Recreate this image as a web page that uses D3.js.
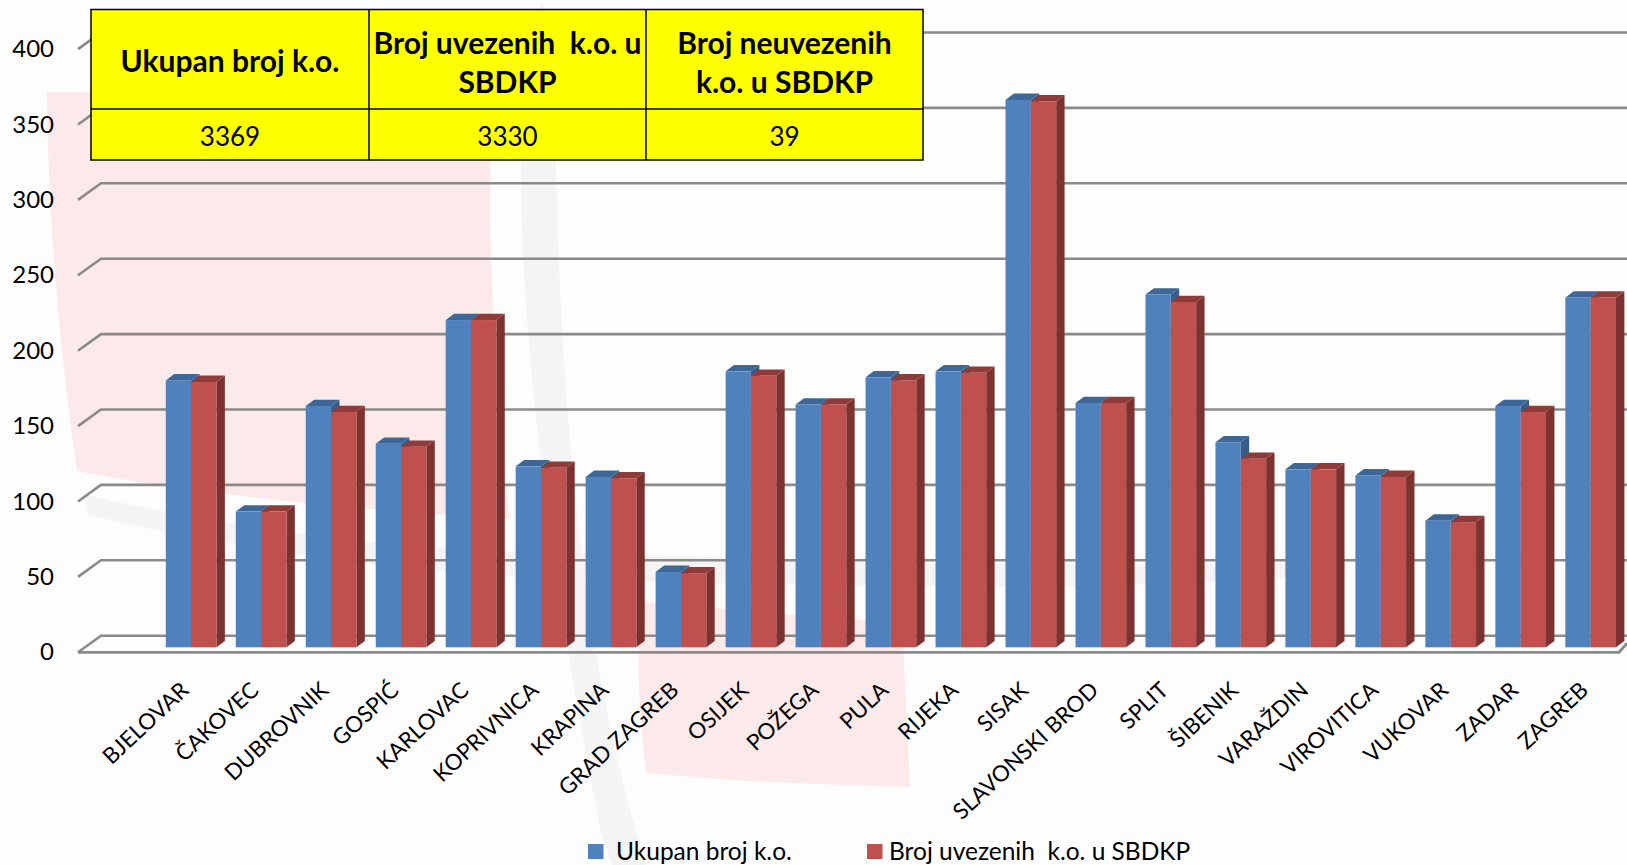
<!DOCTYPE html>
<html>
<head>
<meta charset="utf-8">
<script src="https://d3js.org/d3.v7.min.js"></script>
<style>
body { margin: 0; background: #fdfdfd; }
svg { display: block; }
text { font-family: Lato, "Open Sans", sans-serif; fill: #000; }
.yAxis text { font-size: 24px; }
.xLabel { font-size: 22.3px; }
.legendText { font-size: 24.5px; }
</style>
</head>
<body>
<div id="chart"></div>
<script>
var categories = ["BJELOVAR", "ČAKOVEC", "DUBROVNIK", "GOSPIĆ", "KARLOVAC", "KOPRIVNICA", "KRAPINA",
    "GRAD ZAGREB", "OSIJEK", "POŽEGA", "PULA", "RIJEKA", "SISAK", "SLAVONSKI BROD", "SPLIT",
    "ŠIBENIK", "VARAŽDIN", "VIROVITICA", "VUKOVAR", "ZADAR", "ZAGREB"];
var ukupan = [177, 90, 160, 135, 217, 120, 113, 50, 183, 161, 179, 183, 363, 162, 234, 136, 118, 114, 84, 160, 232];
var uvezeni = [176, 90, 156, 133, 217, 119, 112, 49, 180, 161, 177, 182, 362, 162, 229, 125, 118, 113, 83, 156, 232];
var seriesNames = ["Ukupan broj k.o.", "Broj uvezenih  k.o. u SBDKP"];
var yTicks = [0, 50, 100, 150, 200, 250, 300, 350, 400];

var tableHeader = [["Ukupan broj k.o."], ["Broj uvezenih  k.o. u", "SBDKP"], ["Broj neuvezenih", "k.o. u SBDKP"]];
var tableValues = ["3369", "3330", "39"];

var width = 1627;
var height = 865;

var svg = d3.select("#chart")
    .append("svg")
    .attr("width", width)
    .attr("height", height);

// faded watermark behind the plot
var wm = svg.append("g");
wm.append("path")
    .attr("fill", "#fce9e9")
    .attr("d", "M47,92 L491,92 C488,220 492,380 510,519 C360,510 200,495 77,471 C58,340 48,210 47,92 Z");
wm.append("path")
    .attr("fill", "#fce9e9")
    .attr("d", "M640,601 C730,610 820,618 902,622 L910,787 C820,785 730,781 646,773 C640,720 636,660 640,601 Z");
wm.append("path")
    .attr("fill", "#f4f4f4")
    .attr("d", "M542,0 C530,60 522,110 521,160 C520,300 540,520 601,833 L612,865 L646,865 C600,720 562,500 556,160 C555,100 550,50 542,0 Z");
wm.append("path")
    .attr("fill", "#f4f4f4")
    .attr("d", "M86,495 C280,540 480,555 660,555 C900,566 1100,566 1280,563 Q1294,570 1285,578 C1100,590 900,588 660,582 C450,580 260,555 88,515 Z");

// scales
var y = d3.scaleLinear().domain([0, 400]).range([635.7, 32.5]);

var x = d3.scaleBand()
    .domain(categories)
    .range([165.8, 1616])
    .paddingInner(0.276);

var xInner = d3.scaleBand()
    .domain(seriesNames)
    .range([0, x.bandwidth()]);

var floorDrop = 16.6;
var barDrop = 11.6;
var depthX = 8.4;
var depthY = 6.3;
var wallX = 101;
var frontX = 78;

// gridlines on back wall with the slanted piece on the side wall
var grid = svg.append("g")
    .attr("fill", "none")
    .attr("stroke", "#8a8a8a");

grid.selectAll(".wall")
    .data(yTicks)
    .enter().append("path")
    .attr("class", "wall")
    .attr("stroke-width", 2.6)
    .attr("d", function(d) {
        return "M" + frontX + "," + (y(d) + floorDrop) + "L" + wallX + "," + y(d) + "L" + width + "," + y(d);
    });

// floor edge
grid.append("path")
    .attr("stroke-width", 2.8)
    .attr("d", "M" + frontX + "," + (y(0) + floorDrop) + "L1619," + (y(0) + floorDrop) + "L" + width + "," + (y(0) + floorDrop - 9));

// bars
var barColors = [
    { front: "#4f81bd", top: "#3c6796", side: "#385d8a" },
    { front: "#c0504d", top: "#8f3b39", side: "#7d3230" }
];

[ukupan, uvezeni].forEach(function(values, s) {
    var g = svg.append("g").attr("class", "series");
    var c = barColors[s];
    var bw = xInner.bandwidth();
    var left = function(i) { return x(categories[i]) + xInner(seriesNames[s]); };
    var topY = function(v) { return y(v) + barDrop; };
    var baseY = y(0) + barDrop;

    values.forEach(function(v, i) {
        var x0 = left(i);
        var y0 = topY(v);
        g.append("path")
            .attr("fill", c.side)
            .attr("d", "M" + (x0 + bw) + "," + y0 + "L" + (x0 + bw + depthX) + "," + (y0 - depthY) +
                "L" + (x0 + bw + depthX) + "," + (baseY - depthY) + "L" + (x0 + bw) + "," + baseY + "Z");
        g.append("path")
            .attr("fill", c.top)
            .attr("d", "M" + x0 + "," + y0 + "L" + (x0 + depthX) + "," + (y0 - depthY) +
                "L" + (x0 + bw + depthX) + "," + (y0 - depthY) + "L" + (x0 + bw) + "," + y0 + "Z");
        g.append("rect")
            .attr("x", x0)
            .attr("y", y0)
            .attr("width", bw)
            .attr("height", baseY - y0)
            .attr("fill", c.front);
    });
});

// y axis labels sit at the front of the side wall
var yAxis = d3.axisLeft(y).tickValues(yTicks).tickSize(0).tickPadding(0);
svg.append("g")
    .attr("class", "yAxis")
    .attr("transform", "translate(54," + floorDrop + ")")
    .call(yAxis)
    .call(function(g) { g.select(".domain").remove(); });

// x labels
svg.append("g").selectAll("text")
    .data(categories)
    .enter().append("text")
    .attr("class", "xLabel")
    .attr("text-anchor", "end")
    .attr("transform", function(d) {
        return "translate(" + (x(d) + x.bandwidth() / 2 - 1) + ",692)rotate(-43)";
    })
    .text(function(d) { return d; });

// table
var table = svg.append("g").attr("class", "table");
var colEdges = [91, 369, 646, 923];
var rowEdges = [9.5, 109, 160];

table.append("rect")
    .attr("x", colEdges[0])
    .attr("y", rowEdges[0])
    .attr("width", colEdges[3] - colEdges[0])
    .attr("height", rowEdges[2] - rowEdges[0])
    .attr("fill", "#ffff00")
    .attr("stroke", "#000")
    .attr("stroke-width", 1.5);

colEdges.slice(1, 3).forEach(function(cx) {
    table.append("line")
        .attr("x1", cx).attr("x2", cx)
        .attr("y1", rowEdges[0]).attr("y2", rowEdges[2])
        .attr("stroke", "#000").attr("stroke-width", 1.5);
});
table.append("line")
    .attr("x1", colEdges[0]).attr("x2", colEdges[3])
    .attr("y1", rowEdges[1]).attr("y2", rowEdges[1])
    .attr("stroke", "#000").attr("stroke-width", 1.5);

tableHeader.forEach(function(lines, i) {
    var cx = (colEdges[i] + colEdges[i + 1]) / 2;
    lines.forEach(function(line, j) {
        table.append("text")
            .attr("x", cx)
            .attr("y", lines.length == 1 ? 61.5 : 43 + j * 39)
            .attr("dy", "0.35em")
            .attr("text-anchor", "middle")
            .attr("font-size", 30)
            .attr("font-weight", 700)
            .style("white-space", "pre")
            .text(line);
    });
    table.append("text")
        .attr("x", cx)
        .attr("y", 137)
        .attr("dy", "0.35em")
        .attr("text-anchor", "middle")
        .attr("font-size", 26)
        .text(tableValues[i]);
});

// legend
var legendX = [588, 867];
var legend = svg.append("g");
seriesNames.forEach(function(name, i) {
    legend.append("rect")
        .attr("x", legendX[i])
        .attr("y", 844)
        .attr("width", 15.5)
        .attr("height", 15)
        .attr("fill", barColors[i].front);
    legend.append("text")
        .attr("class", "legendText")
        .attr("x", legendX[i] + (i == 0 ? 28 : 22))
        .attr("y", 851)
        .attr("dy", "0.35em")
        .style("white-space", "pre")
        .text(name);
});
</script>
</body>
</html>
